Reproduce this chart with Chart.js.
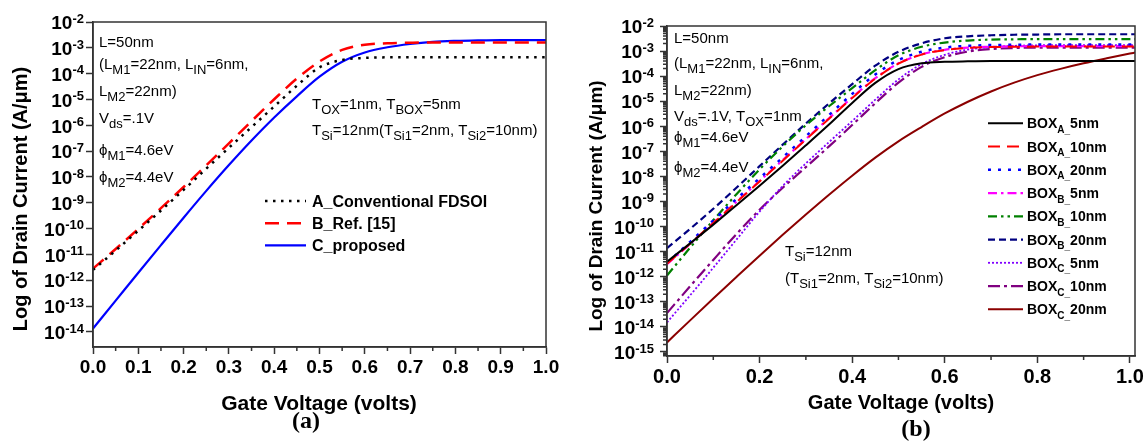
<!DOCTYPE html>
<html>
<head>
<meta charset="utf-8">
<script src="https://cdn.jsdelivr.net/npm/chart.js@4.4.1/dist/chart.umd.min.js"></script>
<style>
  html, body { margin: 0; padding: 0; background: #fff; }
  .panel { position: absolute; top: 0; width: 574px; height: 442px; }
  #wrapA { left: 0; }
  #wrapB { left: 574px; }
</style>
</head>
<body>
<div class="panel" id="wrapA"><canvas id="chartA"></canvas></div>
<div class="panel" id="wrapB"><canvas id="chartB"></canvas></div>
<script>
// ---------- panel (a) data ----------
const voltsA = [0, 0.05, 0.1, 0.15, 0.2, 0.25, 0.3, 0.35, 0.4, 0.45, 0.5, 0.55, 0.6, 0.65, 0.7, 0.75, 0.8, 0.85, 0.9, 0.95, 1.0];
const namesA = ['A_Conventional FDSOI', 'B_Ref. [15]', 'C_proposed'];
const convFDSOI = [2.51e-12, 1.41e-11, 8.32e-11, 5.01e-10, 3.16e-9, 2.09e-8, 1.35e-7, 8.51e-7, 5.37e-6, 3.39e-5, 1.74e-4, 3.39e-4, 4.07e-4, 4.27e-4, 4.27e-4, 4.27e-4, 4.27e-4, 4.27e-4, 4.27e-4, 4.27e-4, 4.27e-4];
const refB15 = [2.82e-12, 1.62e-11, 9.77e-11, 6.17e-10, 4.07e-9, 2.82e-8, 2.0e-7, 1.45e-6, 1.02e-5, 6.46e-5, 2.95e-4, 8.32e-4, 1.32e-3, 1.51e-3, 1.58e-3, 1.62e-3, 1.62e-3, 1.62e-3, 1.62e-3, 1.62e-3, 1.62e-3];
const proposedC = [1.35e-14, 1.62e-13, 1.95e-12, 2.29e-11, 2.63e-10, 2.88e-9, 2.88e-8, 2.57e-7, 2.0e-6, 1.32e-5, 7.59e-5, 2.88e-4, 6.61e-4, 1.05e-3, 1.41e-3, 1.70e-3, 1.86e-3, 1.95e-3, 2.0e-3, 2.0e-3, 2.0e-3];
const xTicksA = [0, 0.1, 0.2, 0.3, 0.4, 0.5, 0.6, 0.7, 0.8, 0.9, 1.0];
const xMinorA = [0.05, 0.15, 0.25, 0.35, 0.45, 0.55, 0.65, 0.75, 0.85, 0.95];
const yPowA = [-14, -13, -12, -11, -10, -9, -8, -7, -6, -5, -4, -3, -2];

// ---------- panel (b) data ----------
const voltsB = [0, 0.05, 0.1, 0.15, 0.2, 0.25, 0.3, 0.35, 0.4, 0.45, 0.5, 0.55, 0.6, 0.65, 0.7, 0.75, 0.8, 0.85, 0.9, 0.95, 1.0, 1.011];
const namesB = ['BOX_{A_}5nm', 'BOX_{A_}10nm', 'BOX_{A_}20nm', 'BOX_{B_}5nm', 'BOX_{B_}10nm', 'BOX_{B_}20nm', 'BOX_{C_}5nm', 'BOX_{C_}10nm', 'BOX_{C_}20nm'];
const boxA5 = [3.98e-12, 2.14e-11, 1.20e-10, 7.08e-10, 4.27e-9, 2.69e-8, 1.74e-7, 1.17e-6, 8.51e-6, 5.37e-5, 1.91e-4, 3.24e-4, 3.72e-4, 3.89e-4, 3.98e-4, 3.98e-4, 3.98e-4, 3.98e-4, 3.98e-4, 3.98e-4, 3.98e-4, 3.98e-4];
const boxA10 = [3.31e-12, 2.09e-11, 1.38e-10, 9.33e-10, 6.31e-9, 4.27e-8, 2.95e-7, 2.0e-6, 1.35e-5, 7.94e-5, 3.16e-4, 7.24e-4, 1.10e-3, 1.35e-3, 1.45e-3, 1.48e-3, 1.51e-3, 1.51e-3, 1.51e-3, 1.51e-3, 1.51e-3, 1.51e-3];
const boxA20 = [3.55e-12, 2.45e-11, 1.78e-10, 1.26e-9, 8.51e-9, 5.75e-8, 3.98e-7, 2.82e-6, 1.95e-5, 1.17e-4, 4.37e-4, 9.33e-4, 1.38e-3, 1.62e-3, 1.74e-3, 1.78e-3, 1.82e-3, 1.82e-3, 1.82e-3, 1.82e-3, 1.82e-3, 1.82e-3];
const boxB5 = [3.16e-12, 2.04e-11, 1.41e-10, 9.77e-10, 6.61e-9, 4.47e-8, 3.09e-7, 2.09e-6, 1.41e-5, 8.32e-5, 3.24e-4, 7.41e-4, 1.12e-3, 1.38e-3, 1.48e-3, 1.55e-3, 1.58e-3, 1.58e-3, 1.58e-3, 1.58e-3, 1.58e-3, 1.58e-3];
const boxB10 = [1.12e-12, 1.45e-11, 1.78e-10, 1.95e-9, 1.91e-8, 1.58e-7, 1.10e-6, 6.31e-6, 3.31e-5, 1.74e-4, 6.76e-4, 1.48e-3, 2.19e-3, 2.63e-3, 2.88e-3, 2.95e-3, 3.02e-3, 3.02e-3, 3.02e-3, 3.02e-3, 3.02e-3, 3.02e-3];
const boxB20 = [1.38e-11, 8.13e-11, 5.13e-10, 3.55e-9, 2.57e-8, 1.86e-7, 1.29e-6, 8.13e-6, 4.79e-5, 2.63e-4, 9.33e-4, 2.04e-3, 3.24e-3, 3.89e-3, 4.27e-3, 4.47e-3, 4.57e-3, 4.68e-3, 4.68e-3, 4.68e-3, 4.68e-3, 4.68e-3];
const boxC5 = [1.51e-14, 1.82e-13, 2.29e-12, 3.02e-11, 3.98e-10, 4.17e-9, 3.31e-8, 2.34e-7, 1.62e-6, 1.15e-5, 7.41e-5, 3.02e-4, 7.08e-4, 1.15e-3, 1.45e-3, 1.62e-3, 1.70e-3, 1.74e-3, 1.74e-3, 1.74e-3, 1.74e-3, 1.74e-3];
const boxC10 = [3.55e-14, 4.17e-13, 4.68e-12, 5.01e-11, 4.68e-10, 3.55e-9, 2.34e-8, 1.58e-7, 1.12e-6, 8.32e-6, 5.50e-5, 2.34e-4, 5.75e-4, 9.55e-4, 1.20e-3, 1.32e-3, 1.38e-3, 1.38e-3, 1.38e-3, 1.38e-3, 1.38e-3, 1.38e-3];
const boxC20 = [2.40e-15, 1.82e-14, 1.35e-13, 9.77e-13, 6.92e-12, 4.68e-11, 3.02e-10, 1.86e-9, 1.07e-8, 5.62e-8, 2.51e-7, 9.33e-7, 3.24e-6, 9.55e-6, 2.45e-5, 5.50e-5, 1.10e-4, 1.95e-4, 3.24e-4, 5.13e-4, 7.94e-4, 8.71e-4];
const xTicksB = [0, 0.2, 0.4, 0.6, 0.8, 1.0];
const xMinorB = [0.1, 0.3, 0.5, 0.7, 0.9];
const yPowB = [-15, -14, -13, -12, -11, -10, -9, -8, -7, -6, -5, -4, -3, -2];

const FONT = '"Liberation Sans", Arial, Helvetica, sans-serif';
const SERIF = '"Liberation Serif", "Times New Roman", serif';

const pts = (xs, ys) => xs.map((x, i) => ({ x: x, y: ys[i] }));

function line(label, xs, ys, color, width, dash) {
  return {
    label: label,
    data: pts(xs, ys),
    borderColor: color,
    backgroundColor: color,
    borderWidth: width,
    borderDash: dash,
    pointRadius: 0,
    fill: false,
    cubicInterpolationMode: 'monotone'
  };
}

// text with _{...} subscripts, vertically centred on yMid
function richText(ctx, text, x, yMid, size, weight, subSize) {
  const pieces = text.split(/(_\{[^}]*\})/).filter(s => s.length).map(p =>
    p.startsWith('_{') ? { s: p.slice(2, -1), sub: true } : { s: p, sub: false });
  const base = yMid + size * 0.36;
  let cx = x;
  ctx.textAlign = 'left';
  ctx.textBaseline = 'alphabetic';
  pieces.forEach(pc => {
    ctx.font = weight + ' ' + (pc.sub ? subSize : size) + 'px ' + FONT;
    ctx.fillText(pc.s, cx, pc.sub ? base + size * 0.32 : base);
    cx += ctx.measureText(pc.s).width;
  });
}

function decor(p) {
  return {
    id: 'decor',
    afterDraw(chart) {
      const { ctx, chartArea: a } = chart;
      const xs = chart.scales.x, ys = chart.scales.y;
      ctx.save();

      // frame
      ctx.setLineDash([]);
      ctx.strokeStyle = '#333';
      ctx.lineWidth = 1.5;
      ctx.strokeRect(a.left, a.top, a.right - a.left, a.bottom - a.top);

      // minor ticks
      ctx.beginPath();
      p.xMinor.forEach(v => {
        const px = xs.getPixelForValue(v);
        ctx.moveTo(px, a.bottom);
        ctx.lineTo(px, a.bottom + 4);
      });
      if (p.yMinor) {
        for (let k = p.yPow[0] - 1; k < p.yPow[p.yPow.length - 1]; k++) {
          for (let m = 2; m <= 9; m++) {
            const v = m * Math.pow(10, k);
            if (v < ys.min || v > ys.max) continue;
            const py = ys.getPixelForValue(v);
            ctx.moveTo(a.left - 4, py);
            ctx.lineTo(a.left, py);
          }
        }
      }
      ctx.stroke();

      // y tick labels as 10 with raised exponent
      ctx.fillStyle = '#000';
      ctx.textBaseline = 'alphabetic';
      ctx.textAlign = 'left';
      p.yPow.forEach(k => {
        const py = ys.getPixelForValue(Math.pow(10, k));
        const exp = String(k);
        ctx.font = 'bold ' + p.expSize + 'px ' + FONT;
        const ew = ctx.measureText(exp).width;
        ctx.font = 'bold ' + p.tickSize + 'px ' + FONT;
        const bw = ctx.measureText('10').width;
        const right = a.left - p.labelGap;
        const base = py + p.tickSize * 0.38;
        ctx.fillText('10', right - ew - bw, base);
        ctx.font = 'bold ' + p.expSize + 'px ' + FONT;
        ctx.fillText(exp, right - ew, base - p.tickSize * 0.34);
      });

      // axis titles
      ctx.save();
      ctx.translate(p.yTitle.x, p.yTitle.y);
      ctx.rotate(-Math.PI / 2);
      ctx.font = 'bold ' + p.yTitle.size + 'px ' + FONT;
      ctx.textAlign = 'center';
      ctx.textBaseline = 'alphabetic';
      ctx.fillText(p.yTitle.text, 0, p.yTitle.size * 0.36);
      ctx.restore();

      ctx.font = 'bold ' + p.xTitle.size + 'px ' + FONT;
      ctx.textAlign = 'center';
      ctx.fillText(p.xTitle.text, p.xTitle.x, p.xTitle.y + p.xTitle.size * 0.36);

      ctx.font = 'bold ' + p.tag.size + 'px ' + SERIF;
      ctx.fillText(p.tag.text, p.tag.x, p.tag.y + p.tag.size * 0.26);

      // annotations
      p.notes.forEach(n => richText(ctx, n[0], n[1], n[2], p.noteSize, 'normal', p.noteSub));

      // legend inside the plot
      const L = p.legend;
      chart.data.datasets.forEach((ds, i) => {
        const ly = L.y + i * L.dy;
        ctx.strokeStyle = ds.borderColor;
        ctx.lineWidth = ds.borderWidth;
        ctx.setLineDash(ds.borderDash || []);
        ctx.beginPath();
        ctx.moveTo(L.x0, ly);
        ctx.lineTo(L.x1, ly);
        ctx.stroke();
        ctx.setLineDash([]);
        ctx.fillStyle = '#000';
        richText(ctx, ds.label, L.tx, ly, L.size, 'bold', L.sub);
      });

      ctx.restore();
    }
  };
}

function buildChart(id, datasets, p) {
  const tickGrid = { drawOnChartArea: false, drawTicks: true, tickLength: 7, tickColor: '#333', tickWidth: 1.5 };
  return new Chart(document.getElementById(id), {
    type: 'line',
    data: { datasets: datasets },
    options: {
      responsive: true,
      maintainAspectRatio: false,
      animation: false,
      layout: { padding: { left: 0, top: p.top, right: p.right, bottom: 0 } },
      plugins: { legend: { display: false }, tooltip: { enabled: false } },
      scales: {
        x: {
          type: 'linear',
          min: 0,
          max: p.xMax,
          afterBuildTicks: s => { s.ticks = p.xTicks.map(v => ({ value: v })); },
          afterFit: s => { s.height = p.bottom; },
          ticks: {
            callback: v => v.toFixed(1),
            color: '#000',
            font: { family: FONT, size: p.xTickSize, weight: 'bold' },
            padding: 2,
            maxRotation: 0,
            autoSkip: false
          },
          grid: tickGrid,
          border: { color: '#333', width: 1.5 }
        },
        y: {
          type: 'logarithmic',
          min: p.yMin,
          max: 1e-2,
          afterBuildTicks: s => { s.ticks = p.yPow.map(k => ({ value: Math.pow(10, k) })); },
          afterFit: s => { s.width = p.left; },
          ticks: { callback: () => '', autoSkip: false },
          grid: tickGrid,
          border: { color: '#333', width: 1.5 }
        }
      }
    },
    plugins: [decor(p)]
  });
}

// ---------- panel (a) ----------
buildChart('chartA', [
  line(namesA[0], voltsA, convFDSOI, '#000000', 2.5, [2.5, 5.5]),
  line(namesA[1], voltsA, refB15, '#ff0000', 2.5, [14, 8]),
  line(namesA[2], voltsA, proposedC, '#0000ff', 2.2, [])
], {
  top: 22, right: 28, left: 93, bottom: 95,
  xMax: 1.0, xTicks: xTicksA, xMinor: xMinorA, xTickSize: 19,
  yMin: 2.6e-15, yPow: yPowA, yMinor: false,
  tickSize: 19, expSize: 13, labelGap: 9,
  yTitle: { text: 'Log of Drain Current (A/μm)', x: 20, y: 199, size: 20 },
  xTitle: { text: 'Gate Voltage (volts)', x: 319, y: 402, size: 21 },
  tag: { text: '(a)', x: 306, y: 422, size: 24 },
  noteSize: 15, noteSub: 13,
  notes: [
    ['L=50nm', 99, 42],
    ['(L_{M1}=22nm, L_{IN}=6nm,', 99, 64],
    ['L_{M2}=22nm)', 99, 91],
    ['V_{ds}=.1V', 99, 118],
    ['ϕ_{M1}=4.6eV', 99, 150],
    ['ϕ_{M2}=4.4eV', 99, 177],
    ['T_{OX}=1nm, T_{BOX}=5nm', 312, 104],
    ['T_{Si}=12nm(T_{Si1}=2nm, T_{Si2}=10nm)', 312, 130]
  ],
  legend: { x0: 265, x1: 306, tx: 312, y: 201, dy: 22.2, size: 16, sub: 12 }
});

// ---------- panel (b) ----------
buildChart('chartB', [
  line(namesB[0], voltsB, boxA5, '#000000', 2, []),
  line(namesB[1], voltsB, boxA10, '#ff0000', 2, [12, 7]),
  line(namesB[2], voltsB, boxA20, '#0000ff', 2.5, [3, 7]),
  line(namesB[3], voltsB, boxB5, '#ff00ff', 2.2, [9, 4, 2.5, 4]),
  line(namesB[4], voltsB, boxB10, '#008000', 2.2, [9, 4, 2.5, 4, 2.5, 4]),
  line(namesB[5], voltsB, boxB20, '#000080', 2.2, [7, 4]),
  line(namesB[6], voltsB, boxC5, '#8000ff', 1.8, [2, 2]),
  line(namesB[7], voltsB, boxC10, '#800080', 2.2, [12, 4, 3, 4]),
  line(namesB[8], voltsB, boxC20, '#8b0000', 2, [])
], {
  top: 26, right: 13, left: 93, bottom: 86,
  xMax: 1.011, xTicks: xTicksB, xMinor: xMinorB, xTickSize: 20,
  yMin: 6.9e-16, yPow: yPowB, yMinor: true,
  tickSize: 19, expSize: 13, labelGap: 13,
  yTitle: { text: 'Log of Drain Current (A/μm)', x: 21, y: 206, size: 19 },
  xTitle: { text: 'Gate Voltage (volts)', x: 327, y: 402, size: 20 },
  tag: { text: '(b)', x: 342, y: 430, size: 24 },
  noteSize: 15, noteSub: 13,
  notes: [
    ['L=50nm', 100, 38],
    ['(L_{M1}=22nm, L_{IN}=6nm,', 100, 63],
    ['L_{M2}=22nm)', 100, 90],
    ['V_{ds}=.1V, T_{OX}=1nm', 100, 116],
    ['ϕ_{M1}=4.6eV', 100, 137],
    ['ϕ_{M2}=4.4eV', 100, 167],
    ['T_{Si}=12nm', 211, 251],
    ['(T_{Si1}=2nm, T_{Si2}=10nm)', 211, 278]
  ],
  legend: { x0: 414, x1: 449, tx: 453, y: 123.3, dy: 23.25, size: 14, sub: 10 }
});
</script>
</body>
</html>
